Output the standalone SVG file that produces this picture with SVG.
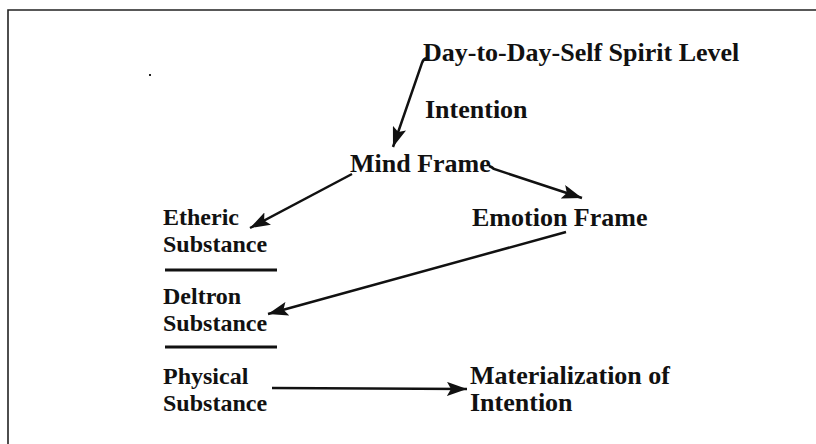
<svg xmlns="http://www.w3.org/2000/svg" width="816" height="444" viewBox="0 0 816 444">
<style>
text { font-family: "Liberation Serif", "Times New Roman", serif; font-weight: bold; font-size: 26px; fill: #111; }
.col { font-size: 24px; }
.conn { stroke: #111; stroke-width: 2.5; fill: none; }
.rule { stroke: #111; stroke-width: 3; }
.frame { stroke: #222; stroke-width: 1.6; fill: none; }
</style>
<defs>
<marker id="ah" markerUnits="userSpaceOnUse" markerWidth="22" markerHeight="14" refX="20" refY="7" orient="auto">
<path d="M0,0 L20,7 L0,14 L4,7 Z" fill="#111"/>
</marker>
</defs>
<rect width="816" height="444" fill="#fff"/>
<path class="frame" d="M816,10 L8,10 L8,444"/>
<rect x="149" y="74" width="2" height="2" fill="#222"/>

<g id="day-self"><text x="423" y="61">Day-to-Day-Self Spirit Level</text></g>
<g id="intention"><text x="425" y="118">Intention</text></g>
<g id="mind-frame"><text x="350" y="172">Mind Frame</text></g>
<g id="etheric"><text class="col" x="163" y="225">Etheric</text><text class="col" x="163" y="252">Substance</text></g>
<g id="emotion-frame"><text x="472" y="226">Emotion Frame</text></g>
<g id="deltron"><text class="col" x="163" y="304">Deltron</text><text class="col" x="163" y="331">Substance</text></g>
<g id="physical"><text class="col" x="163" y="384">Physical</text><text class="col" x="163" y="411">Substance</text></g>
<g id="materialization"><text x="470" y="384">Materialization of</text><text x="470" y="411">Intention</text></g>
<g id="rules">
<line class="rule" x1="165" y1="270" x2="277" y2="270"/>
<line class="rule" x1="165" y1="347" x2="277" y2="347"/>
</g>

<g id="connectors">
<path class="conn" d="M427,58 Q423,59 422,63 L393,147" marker-end="url(#ah)"/>
<path class="conn" d="M352,174 L250,228" marker-end="url(#ah)"/>
<path class="conn" d="M489,166 Q492,167 494,169 L582,198" marker-end="url(#ah)"/>
<path class="conn" d="M566,232 L268,314" marker-end="url(#ah)"/>
<path class="conn" d="M272,388 L467,389" marker-end="url(#ah)"/>
</g>
</svg>
